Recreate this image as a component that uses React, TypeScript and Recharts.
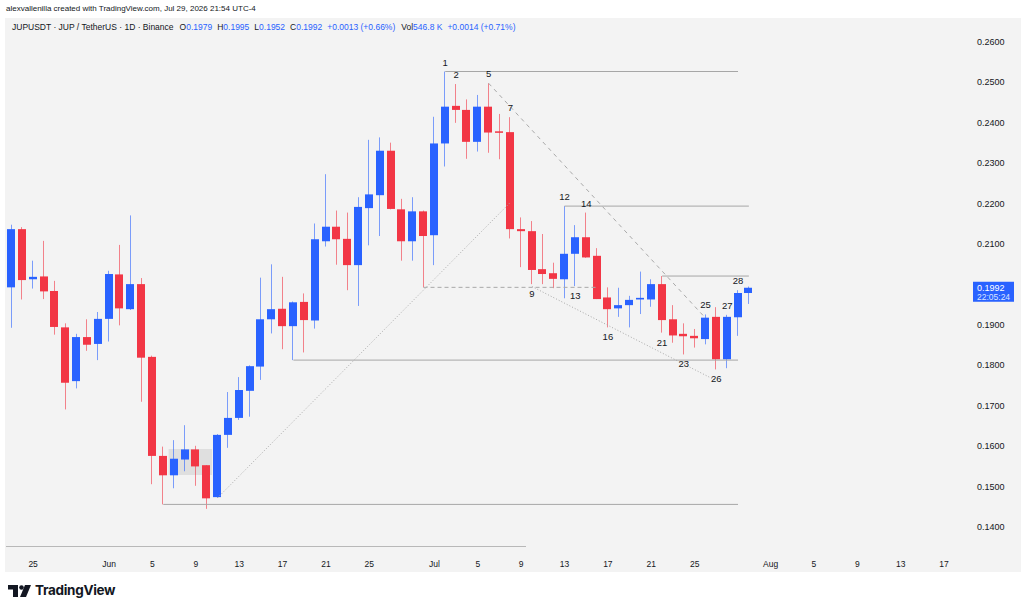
import { Bar, ComposedChart, ReferenceArea, ReferenceDot, ReferenceLine, XAxis, YAxis } from "recharts";

// daily candles JUPUSDT, May 23 -> Jul 30, axis runs on to Aug 17
const dates = [
	"05-23", "05-24", "05-25", "05-26", "05-27", "05-28", "05-29", "05-30", "05-31",
	"06-01", "06-02", "06-03", "06-04", "06-05", "06-06", "06-07", "06-08", "06-09", "06-10",
	"06-11", "06-12", "06-13", "06-14", "06-15", "06-16", "06-17", "06-18", "06-19", "06-20",
	"06-21", "06-22", "06-23", "06-24", "06-25", "06-26", "06-27", "06-28", "06-29", "06-30",
	"07-01", "07-02", "07-03", "07-04", "07-05", "07-06", "07-07", "07-08", "07-09", "07-10",
	"07-11", "07-12", "07-13", "07-14", "07-15", "07-16", "07-17", "07-18", "07-19", "07-20",
	"07-21", "07-22", "07-23", "07-24", "07-25", "07-26", "07-27", "07-28", "07-29", "07-30",
	"07-31", "08-01", "08-02", "08-03", "08-04", "08-05", "08-06", "08-07", "08-08", "08-09",
	"08-10", "08-11", "08-12", "08-13", "08-14", "08-15", "08-16", "08-17",
];

const opens = [
	0.1993, 0.2137, 0.2013, 0.202, 0.1984, 0.1894, 0.1761, 0.187, 0.1853,
	0.1915, 0.2025, 0.1939, 0.2001, 0.1821, 0.1576, 0.1528, 0.1567, 0.1592, 0.1553,
	0.1474, 0.1628, 0.167, 0.1737, 0.1797, 0.1914, 0.194, 0.1897, 0.1957, 0.1911,
	0.2107, 0.2143, 0.2113, 0.2048, 0.2189, 0.2221, 0.2331, 0.2186, 0.2107, 0.2181,
	0.2122, 0.2349, 0.2442, 0.2432, 0.2353, 0.244, 0.2379, 0.2377, 0.2137, 0.2132,
	0.2038, 0.2028, 0.2013, 0.2076, 0.2117, 0.2071, 0.1968, 0.1941, 0.1949, 0.1963,
	0.1963, 0.2001, 0.1914, 0.1878, 0.1873, 0.1865, 0.192, 0.1815, 0.1919, 0.1979,
];
const highs = [
	0.2148, 0.2142, 0.2059, 0.2108, 0.2009, 0.1904, 0.1878, 0.1914, 0.1932,
	0.2034, 0.2098, 0.2171, 0.2016, 0.1824, 0.1599, 0.1615, 0.1652, 0.1601, 0.1553,
	0.163, 0.1734, 0.1771, 0.18, 0.2017, 0.205, 0.2019, 0.1958, 0.1978, 0.2151,
	0.2273, 0.2183, 0.2178, 0.2216, 0.2358, 0.2364, 0.2351, 0.2212, 0.2216, 0.2183,
	0.2415, 0.2527, 0.2496, 0.2458, 0.2469, 0.2498, 0.2422, 0.2414, 0.2166, 0.2157,
	0.2125, 0.2054, 0.2194, 0.2147, 0.2178, 0.209, 0.1993, 0.1992, 0.1972, 0.2032,
	0.2013, 0.2021, 0.1949, 0.1904, 0.189, 0.1926, 0.1944, 0.1925, 0.1986, 0.1995,
];
const lows = [
	0.1893, 0.1963, 0.199, 0.1964, 0.1876, 0.1691, 0.1743, 0.1836, 0.1813,
	0.1859, 0.1899, 0.1937, 0.171, 0.1506, 0.1456, 0.1496, 0.1538, 0.1502, 0.1445,
	0.1472, 0.1596, 0.1665, 0.1673, 0.1764, 0.1879, 0.184, 0.1813, 0.1832, 0.1891,
	0.2094, 0.2049, 0.1986, 0.1947, 0.2097, 0.212, 0.2186, 0.2059, 0.2059, 0.1993,
	0.2048, 0.2292, 0.24, 0.2311, 0.2329, 0.2326, 0.231, 0.2114, 0.2043, 0.2001,
	0.2001, 0.1991, 0.1966, 0.1996, 0.2066, 0.1964, 0.1894, 0.192, 0.1894, 0.1927,
	0.1945, 0.1881, 0.1856, 0.1827, 0.1844, 0.1852, 0.179, 0.1793, 0.1873, 0.1952,
];
const closes = [
	0.2137, 0.2011, 0.2019, 0.1983, 0.1895, 0.1757, 0.187, 0.1851, 0.1915,
	0.2026, 0.1941, 0.2001, 0.1819, 0.1576, 0.1528, 0.1569, 0.1592, 0.155, 0.1471,
	0.1628, 0.167, 0.1739, 0.1798, 0.1914, 0.1939, 0.1897, 0.1956, 0.1912, 0.2112,
	0.2143, 0.2112, 0.2048, 0.2192, 0.2223, 0.2331, 0.2187, 0.2107, 0.2181, 0.212,
	0.2349, 0.244, 0.2432, 0.2353, 0.244, 0.2376, 0.2376, 0.2137, 0.2132, 0.2036,
	0.2026, 0.2014, 0.2076, 0.2117, 0.2067, 0.1964, 0.1939, 0.1949, 0.1962, 0.1967,
	0.2001, 0.1912, 0.1874, 0.1872, 0.1867, 0.1918, 0.1815, 0.192, 0.1979, 0.1992,
];

const tickDates = [
	"05-25", "06-01", "06-05", "06-09", "06-13", "06-17", "06-21", "06-25", "07-01", "07-05",
	"07-09", "07-13", "07-17", "07-21", "07-25", "08-01", "08-05", "08-09", "08-13", "08-17",
];
const tickLabels = ["25", "Jun", "5", "9", "13", "17", "21", "25", "Jul", "5", "9", "13", "17", "21", "25", "Aug", "5", "9", "13", "17"];
// 0.2000 sits under the last-price tag in the screenshot
const priceTicks = [0.14, 0.15, 0.16, 0.17, 0.18, 0.19, 0.21, 0.22, 0.23, 0.24, 0.25, 0.26];

// horizontal levels drawn on the chart
const levelPrices = [0.2527, 0.1456, 0.2194, 0.2021, 0.1813];
const levelStarts = ["07-02", "06-06", "07-13", "07-22", "06-18"];
const levelEnds = ["07-29", "07-29", "07-30", "07-30", "07-29"];

// trend lines
const trendFromDates = ["06-11", "07-06", "07-10", "06-30"];
const trendFromPrices = [0.1472, 0.2498, 0.1995, 0.1993];
const trendToDates = ["07-08", "07-26", "07-27", "07-16"];
const trendToPrices = [0.2203, 0.1917, 0.1762, 0.1993];
const trendDash = ["1 2", "4 4", "1 2", "4 3"];

const waveLabels = ["1", "2", "5", "7", "9", "12", "13", "14", "16", "21", "23", "25", "26", "27", "28"];
const waveDates = ["07-02", "07-03", "07-06", "07-08", "07-10", "07-13", "07-14", "07-15", "07-17", "07-22", "07-24", "07-26", "07-27", "07-28", "07-29"];
const waveAbove = [true, true, true, true, false, true, false, true, false, false, false, true, false, true, true];

const UP = "#2962ff";
const DOWN = "#f23645";
const FONT = "'Liberation Sans', Arial, sans-serif";

const rows = dates.map((d, i) => ({
	date: d,
	open: i < opens.length ? opens[i] : null,
	high: i < opens.length ? highs[i] : null,
	low: i < opens.length ? lows[i] : null,
	close: i < opens.length ? closes[i] : null,
	range: i < opens.length ? [lows[i], highs[i]] : null,
}));

// y mapping: 0.26 at y=42, 0.01 every ~40.4px, plot from y=20 to y=547
const PX = 4042;
const yMax = 0.26 + (42 - 20) / PX;
const yMin = 0.26 - (547 - 42) / PX;

const Candle = (props: any) => {
	const { x, y, width, height, payload } = props;
	if (!payload || payload.open == null) return null;
	const { open, close, high, low } = payload;
	const top = Math.min(y, y + height);
	const bottom = Math.max(y, y + height);
	const span = high - low || 1e-9;
	const toY = (p: number) => top + ((high - p) / span) * (bottom - top);
	const color = close >= open ? UP : DOWN;
	const bTop = toY(Math.max(open, close));
	const bBot = toY(Math.min(open, close));
	const cx = Math.floor(x + width / 2);
	return (
		<g>
			<rect x={cx} y={top} width={1} height={Math.max(bottom - top, 1)} fill={color} opacity={0.6} />
			<rect x={Math.round(x)} y={bTop} width={Math.round(width)} height={Math.max(bBot - bTop, 1.5)} fill={color} />
		</g>
	);
};

const XTick = (props: any) => {
	const { x, y, payload } = props;
	const idx = tickDates.indexOf(payload.value);
	if (idx < 0) return <g />;
	return (
		<text x={x} y={y + 12} textAnchor="middle" fontSize={8.5} fill="#131722" fontFamily={FONT}>
			{tickLabels[idx]}
		</text>
	);
};

const YTick = (props: any) => {
	const { y, payload } = props;
	return (
		<text x={977} y={y + 3} textAnchor="start" fontSize={9} fill="#131722" fontFamily={FONT}>
			{payload.value.toFixed(4)}
		</text>
	);
};

const PriceTag = (props: any) => {
	const y = props.viewBox?.y ?? 0;
	return (
		<g>
			<rect x={973} y={y - 6} width={41} height={20} fill="#2962ff" />
			<text x={977} y={y + 3} fontSize={9} fill="#ffffff" fontFamily={FONT}>
				{closes[closes.length - 1].toFixed(4)}
			</text>
			<text x={977} y={y + 12} fontSize={8.5} fill="#dbe4ff" fontFamily={FONT}>
				22:05:24
			</text>
		</g>
	);
};

const last = opens.length - 1;
const change = closes[last] - closes[last - 1];

export default function App() {
	return (
		<div style={{ position: "fixed", left: 0, top: 0, width: 1024, height: 612, background: "#ffffff", fontFamily: FONT }}>
			<div style={{ position: "absolute", left: 5, top: 18, width: 1016, height: 554, background: "#f3f3f3" }} />
			<div style={{ position: "absolute", left: 6, top: 546, width: 520, height: 1, background: "#b8b8b8" }} />
			<div style={{ position: "absolute", left: 6, top: 4, fontSize: 8, color: "#131722", whiteSpace: "nowrap" }}>
				alexvallenilla created with TradingView.com, Jul 29, 2026 21:54 UTC-4
			</div>
			<div style={{ position: "absolute", left: 12, top: 22, fontSize: 8.5, color: "#131722", whiteSpace: "nowrap" }}>
				<span>JUPUSDT · JUP / TetherUS · 1D · Binance</span>
				<span style={{ marginLeft: 6 }}>O<span style={{ color: UP }}>{opens[last].toFixed(4)}</span></span>
				<span style={{ marginLeft: 5 }}>H<span style={{ color: UP }}>{highs[last].toFixed(4)}</span></span>
				<span style={{ marginLeft: 5 }}>L<span style={{ color: UP }}>{lows[last].toFixed(4)}</span></span>
				<span style={{ marginLeft: 5 }}>C<span style={{ color: UP }}>{closes[last].toFixed(4)}</span></span>
				<span style={{ marginLeft: 5, color: UP }}>+{change.toFixed(4)} (+0.66%)</span>
				<span style={{ marginLeft: 6 }}>Vol<span style={{ color: UP }}>546.8 K</span></span>
				<span style={{ marginLeft: 5, color: UP }}>+0.0014 (+0.71%)</span>
			</div>

			<div style={{ position: "absolute", left: 0, top: 0 }}>
				<ComposedChart width={1024} height={612} data={rows} margin={{ top: 20, right: 0, bottom: 40, left: 6 }}>
					<XAxis dataKey="date" interval={0} tickLine={false} axisLine={false} height={25} tick={<XTick />} />
					<YAxis
						orientation="right"
						type="number"
						domain={[yMin, yMax]}
						allowDataOverflow
						ticks={priceTicks}
						axisLine={false}
						tickLine={false}
						width={74.5}
						tick={<YTick />}
					/>
					<ReferenceArea x1="06-07" x2="06-10" y1={0.1529} y2={0.1593} fill="#c8c8c8" fillOpacity={0.45} stroke="none" />
					{levelPrices.map((p, i) => (
						<ReferenceLine
							key={"lv" + i}
							segment={[
								{ x: levelStarts[i], y: p },
								{ x: levelEnds[i], y: p },
							]}
							stroke="#a6a6a6"
							strokeWidth={1}
						/>
					))}
					{trendFromDates.map((d, i) => (
						<ReferenceLine
							key={"tl" + i}
							segment={[
								{ x: d, y: trendFromPrices[i] },
								{ x: trendToDates[i], y: trendToPrices[i] },
							]}
							stroke="#a9a9a9"
							strokeWidth={1}
							strokeDasharray={trendDash[i]}
						/>
					))}
					<Bar dataKey="range" barSize={8} isAnimationActive={false} shape={(p: any) => <Candle {...p} />} />
					{waveLabels.map((lab, i) => {
						const idx = dates.indexOf(waveDates[i]);
						const price = waveAbove[i] ? highs[idx] : lows[idx];
						return (
							<ReferenceDot
								key={"wv" + i}
								x={waveDates[i]}
								y={price}
								r={2}
								shape={(p: any) => (
									<text
										x={p.cx}
										y={waveAbove[i] ? p.cy - 6 : p.cy + 13}
										textAnchor="middle"
										fontSize={9.5}
										fill="#131722"
										fontFamily={FONT}
									>
										{lab}
									</text>
								)}
							/>
						);
					})}
					<ReferenceLine y={closes[last]} stroke="none" label={(p: any) => <PriceTag {...p} />} />
				</ComposedChart>
			</div>

			<svg style={{ position: "absolute", left: 8, top: 585 }} width={24} height={13}>
				<rect x={0} y={0} width={10} height={4.5} fill="#131722" />
				<rect x={5} y={0} width={5} height={12} fill="#131722" />
				<circle cx={13.5} cy={2.5} r={2.3} fill="#131722" />
				<polygon points="17,0 23,0 18,12 12,12" fill="#131722" />
			</svg>
			<div style={{ position: "absolute", left: 35, top: 582, fontSize: 13.5, fontWeight: 700, color: "#131722", fontFamily: "Inter, 'Liberation Sans', sans-serif", letterSpacing: -0.3 }}>
				TradingView
			</div>
		</div>
	);
}
